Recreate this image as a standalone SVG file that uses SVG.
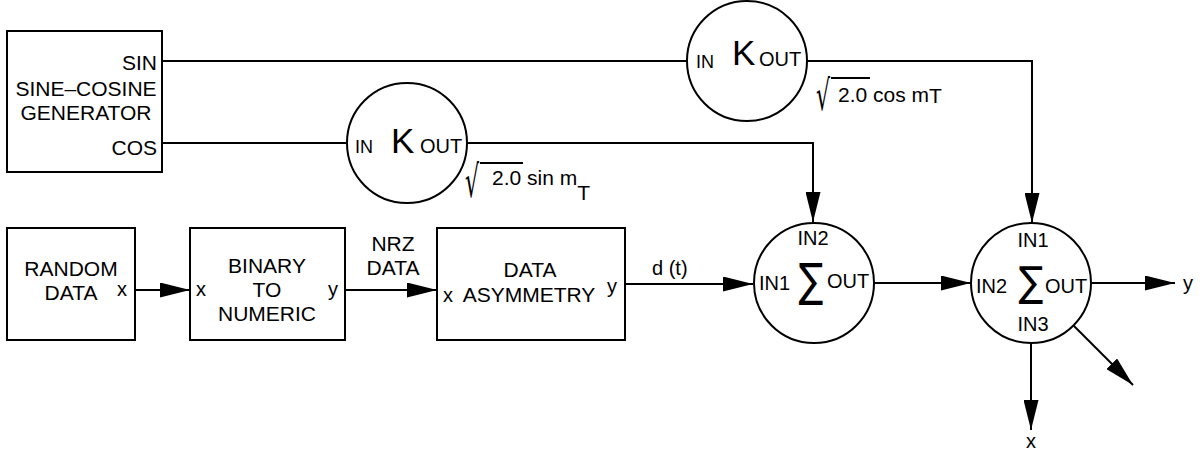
<svg xmlns="http://www.w3.org/2000/svg" width="1204" height="453" viewBox="0 0 1204 453">
<style>
text{font-family:"Liberation Sans",Arial,sans-serif;fill:#000}
.t{font-size:21px}
.p{font-size:20px}
.q{font-size:21px}
.s{font-size:18px}
.k{font-size:35px}
.sig{font-family:"DejaVu Sans",sans-serif;font-size:46px;text-anchor:middle}
.rad{font-family:"DejaVu Sans",sans-serif;font-size:26px}
.m{text-anchor:middle}
.e{text-anchor:end}
.box{fill:#fff;stroke:#000;stroke-width:2}
.ln{fill:none;stroke:#000;stroke-width:2}
</style>
<defs>
<marker id="ah" markerUnits="userSpaceOnUse" viewBox="0 0 30 15" refX="30" refY="7.5" markerWidth="30" markerHeight="15" orient="auto">
<path d="M0,0 L30,7.5 L0,15 z" fill="#000"/>
</marker>
</defs>
<g id="connectors">
<path class="ln" d="M162,61 H687"/>
<path class="ln" d="M807,61 H1032 V223" marker-end="url(#ah)"/>
<path class="ln" d="M162,143 H347"/>
<path class="ln" d="M467,143 H813 V222" marker-end="url(#ah)"/>
<path class="ln" d="M135,290 H190" marker-end="url(#ah)"/>
<path class="ln" d="M345,290 H437" marker-end="url(#ah)"/>
<path class="ln" d="M625,284 H753" marker-end="url(#ah)"/>
<path class="ln" d="M875,283 H971" marker-end="url(#ah)"/>
<path class="ln" d="M1092,283 H1175" marker-end="url(#ah)"/>
<path class="ln" d="M1031,343 V430" marker-end="url(#ah)"/>
<path class="ln" d="M1073,325 L1133,385" marker-end="url(#ah)"/>
<text class="t m" x="393" y="251">NRZ<tspan x="393" dy="24">DATA</tspan></text>
<text class="p" x="652" y="275">d (t)</text>
<text class="p" x="1183" y="290">y</text>
<text class="p m" x="1031" y="448">x</text>
</g>
<g id="sine-cosine-generator">
<rect class="box" x="7" y="31" width="155" height="141"/>
<text class="t e" x="157" y="70">SIN</text>
<text class="t m" x="86" y="96">SINE–COSINE<tspan x="86" dy="24">GENERATOR</tspan></text>
<text class="t e" x="157" y="155">COS</text>
</g>
<g id="gain-sin">
<circle class="box" cx="407" cy="143" r="60"/>
<text class="s" x="355" y="153">IN</text>
<text class="k" x="391" y="153">K</text>
<text class="p" x="420" y="153">OUT</text>
<text class="rad" transform="translate(465,197) scale(0.85,1.7)">√</text>
<line class="ln" x1="480" y1="163" x2="523" y2="163" stroke-width="1.5"/>
<text class="q" x="492" y="185">2.0 sin m<tspan dy="15">T</tspan></text>
</g>
<g id="gain-cos">
<circle class="box" cx="747" cy="61" r="60"/>
<text class="s" x="696" y="68">IN</text>
<text class="k" x="732" y="65">K</text>
<text class="p" x="759" y="66">OUT</text>
<text class="rad" transform="translate(816,110) scale(0.85,1.6)">√</text>
<line class="ln" x1="831" y1="78" x2="870" y2="78" stroke-width="1.5"/>
<text class="q" x="838" y="102">2.0 cos m<tspan dy="1">T</tspan></text>
</g>
<g id="random-data">
<rect class="box" x="7" y="228" width="128" height="112"/>
<text class="t m" x="71" y="276">RANDOM<tspan x="71" dy="24">DATA</tspan></text>
<text class="p" x="117" y="296">x</text>
</g>
<g id="binary-to-numeric">
<rect class="box" x="190" y="228" width="155" height="112"/>
<text class="t m" x="267" y="273">BINARY<tspan x="267" dy="24">TO</tspan><tspan x="267" dy="24">NUMERIC</tspan></text>
<text class="p" x="196" y="296">x</text>
<text class="p" x="328" y="296">y</text>
</g>
<g id="data-asymmetry">
<rect class="box" x="437" y="228" width="188" height="112"/>
<text class="t m" x="530" y="277">DATA<tspan x="529" dy="25">ASYMMETRY</tspan></text>
<text class="p" x="443" y="302">x</text>
<text class="p" x="607" y="293">y</text>
</g>
<g id="sum-1">
<circle class="box" cx="814" cy="283" r="60"/>
<text class="p m" x="813" y="245">IN2</text>
<text class="p" x="759" y="290">IN1</text>
<text class="sig" transform="translate(811,296) scale(0.8,1)">∑</text>
<text class="p" x="827" y="288">OUT</text>
</g>
<g id="sum-2">
<circle class="box" cx="1031" cy="283" r="60"/>
<text class="p m" x="1033" y="247">IN1</text>
<text class="p" x="976" y="293">IN2</text>
<text class="sig" transform="translate(1031,296) scale(0.8,0.9)">∑</text>
<text class="p" x="1045" y="293">OUT</text>
<text class="p m" x="1033" y="331">IN3</text>
</g>
</svg>
